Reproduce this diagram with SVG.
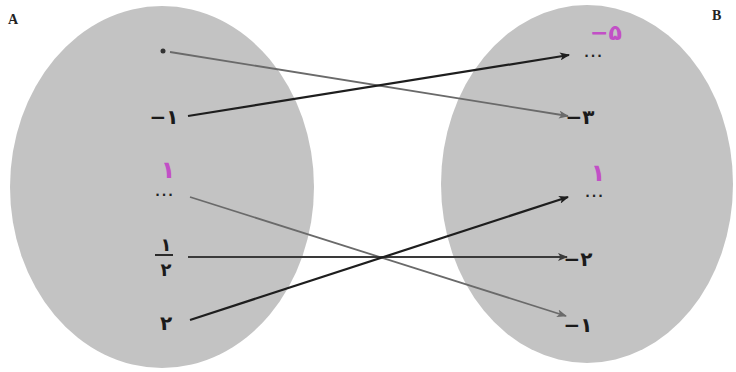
<svg xmlns="http://www.w3.org/2000/svg" width="736" height="372" viewBox="0 0 736 372">
<style>
.set{fill:#c3c3c3;stroke:none}
.t{font-family:"DejaVu Sans","Noto Sans",sans-serif;font-size:20px;font-weight:bold;fill:#1a1a1a;text-anchor:middle}
.dots{font-family:"DejaVu Sans",sans-serif;font-size:12px;font-weight:bold;fill:#222;text-anchor:middle;letter-spacing:2px}
.pk{fill:#c24fc6}
.lbl{font-family:"Liberation Serif",serif;font-weight:bold;font-size:14px;fill:#222}
.dk{stroke:#1e1e1e;stroke-width:2.2;fill:none;marker-end:url(#ad)}
.gr{stroke:#6a6a6a;stroke-width:1.8;fill:none;marker-end:url(#ag)}
.md{stroke:#3a3a3a;stroke-width:2;fill:none;marker-end:url(#am)}
</style>
<defs>
<marker id="ad" markerWidth="10" markerHeight="8" refX="9" refY="4" orient="auto" markerUnits="userSpaceOnUse"><path d="M0,0 L10,4 L0,8 L2.5,4 z" fill="#1e1e1e"/></marker>
<marker id="ag" markerWidth="10" markerHeight="8" refX="9" refY="4" orient="auto" markerUnits="userSpaceOnUse"><path d="M0,0 L10,4 L0,8 L2.5,4 z" fill="#6a6a6a"/></marker>
<marker id="am" markerWidth="10" markerHeight="8" refX="9" refY="4" orient="auto" markerUnits="userSpaceOnUse"><path d="M0,0 L10,4 L0,8 L2.5,4 z" fill="#3a3a3a"/></marker>
</defs>
<rect width="736" height="372" fill="#ffffff"/>
<g id="setA">
<ellipse class="set" cx="162" cy="187" rx="152" ry="181"/>
<text class="lbl" x="8" y="24">A</text>
</g>
<g id="setB">
<ellipse class="set" cx="587" cy="184" rx="146" ry="179"/>
<text class="lbl" x="712" y="20">B</text>
</g>
<g id="a1"><circle cx="163" cy="51" r="2.5" fill="#333"/></g>
<g id="a2"><text class="t" x="164" y="124">−۱</text></g>
<g id="a3"><text class="t pk" x="168" y="178" style="font-size:24px">۱</text><text class="dots" x="165" y="196">...</text></g>
<g id="a4"><text class="t" x="166" y="251" style="font-size:18px">۱</text><line x1="155" y1="255" x2="173" y2="255" stroke="#1a1a1a" stroke-width="1.8"/><text class="t" x="166" y="276" style="font-size:18px">۲</text></g>
<g id="a5"><text class="t" x="166" y="330">۲</text></g>
<g id="b1"><text class="t pk" x="606" y="40" style="font-size:22px">−۵</text><text class="dots" x="594" y="57">...</text></g>
<g id="b2"><text class="t" x="580" y="124">−۳</text></g>
<g id="b3"><text class="t pk" x="598" y="181" style="font-size:24px">۱</text><text class="dots" x="595" y="197">...</text></g>
<g id="b4"><text class="t" x="578" y="266">−۲</text></g>
<g id="b5"><text class="t" x="578" y="332">−۱</text></g>
<g id="connectors">
<line class="gr" x1="170" y1="52" x2="568" y2="116"/>
<line class="dk" x1="188" y1="116" x2="569" y2="55"/>
<line class="gr" x1="190" y1="197" x2="566" y2="316"/>
<line class="md" x1="188" y1="257" x2="567" y2="257"/>
<line class="dk" x1="190" y1="320" x2="568" y2="197"/>
</g>
</svg>
